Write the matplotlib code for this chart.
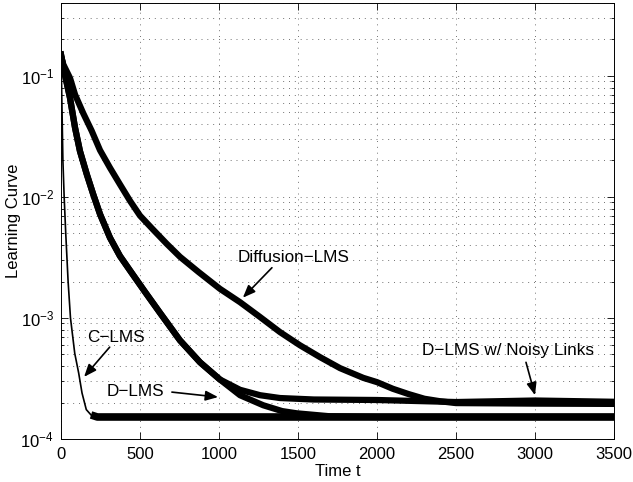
import matplotlib.pyplot as plt
from matplotlib.ticker import LogLocator, MultipleLocator, NullFormatter

plt.rcParams["font.family"] = ["Liberation Sans", "DejaVu Sans"]
plt.rcParams["mathtext.fontset"] = "custom"
plt.rcParams["mathtext.rm"] = "Liberation Sans"
plt.rcParams["font.size"] = 12


# curves (time, learning curve value)

clms_t = [0, 12, 20, 30, 45, 60, 87, 112, 133, 160, 190, 230, 3500]
clms_v = [0.16, 0.02, 1e-2, 5e-3, 2e-3, 1e-3, 5.1e-4, 3.5e-4, 2.4e-4,
          1.75e-4, 1.58e-4, 1.52e-4, 1.52e-4]

dlms_t = [0, 25, 57, 89, 120, 163, 204, 247, 310, 373, 447, 532, 627, 753,
          880, 1006, 1133, 1280, 1400, 1492, 1703, 2000, 3500]
dlms_v = [0.15, 0.102, 0.0657, 0.0372, 0.0239, 0.0154, 0.0105, 7.2e-3,
          4.6e-3, 3.25e-3, 2.36e-3, 1.64e-3, 1.1e-3, 6.53e-4, 4.3e-4, 3.1e-4,
          2.3e-4, 1.9e-4, 1.7e-4, 1.63e-4, 1.54e-4, 1.52e-4, 1.52e-4]

noisy_t = [0, 25, 57, 89, 120, 163, 204, 247, 310, 373, 447, 532, 627, 753,
           880, 1006, 1133, 1260, 1386, 1600, 2000, 2500, 3000, 3500]
noisy_v = [0.15, 0.102, 0.0657, 0.0372, 0.0239, 0.0154, 0.0105, 7.2e-3,
           4.6e-3, 3.25e-3, 2.36e-3, 1.64e-3, 1.1e-3, 6.53e-4, 4.3e-4, 3.1e-4,
           2.55e-4, 2.3e-4, 2.18e-4, 2.12e-4, 2.1e-4, 2.02e-4, 2.08e-4, 2.03e-4]

diff_t = [0, 15, 57, 89, 141, 194, 247, 310, 373, 437, 500, 584, 669, 753,
          870, 1006, 1133, 1259, 1386, 1513, 1639, 1766, 1913, 2000, 2100,
          2200, 2300, 2400, 2500, 3000, 3500]
diff_v = [0.145, 0.124, 0.096, 0.070, 0.049, 0.0352, 0.0243, 0.0174, 0.0127,
          9.27e-3, 7.0e-3, 5.35e-3, 4.1e-3, 3.2e-3, 2.4e-3, 1.74e-3,
          1.35e-3, 1.02e-3, 7.64e-4, 5.94e-4, 4.75e-4, 3.85e-4, 3.2e-4,
          2.95e-4, 2.6e-4, 2.35e-4, 2.15e-4, 2.05e-4, 1.98e-4, 1.96e-4, 1.95e-4]


fig = plt.figure(figsize=(6.33, 4.82), dpi=100)
ax = fig.add_axes([61 / 633, 43 / 482, 553 / 633, 436 / 482])

# thin steep drop for C-LMS, thick noisy floor after it
ax.plot(clms_t, clms_v, color="k", lw=1.2)
ax.plot(clms_t[10:], clms_v[10:], color="k", lw=5.5, solid_capstyle="butt")

ax.plot(dlms_t, dlms_v, color="k", lw=4.5)
ax.plot(noisy_t, noisy_v, color="k", lw=4.5)
ax.plot(diff_t, diff_v, color="k", lw=4.5)

ax.set_yscale("log")
ax.set_xlim(0, 3500)
ax.set_ylim(1e-4, 0.4)

ax.xaxis.set_major_locator(MultipleLocator(500))
ax.yaxis.set_major_locator(LogLocator(base=10, numticks=10))
ax.yaxis.set_minor_locator(LogLocator(base=10, subs=range(2, 10), numticks=20))
ax.yaxis.set_minor_formatter(NullFormatter())

ax.tick_params(which="both", direction="in", top=True, right=True,
               labelsize=12, width=0.6)
ax.tick_params(which="major", length=5)
ax.tick_params(which="minor", length=2.5)
ax.tick_params(axis="x", pad=6)
ax.tick_params(axis="y", pad=5)

grid_style = dict(color="0.45", lw=0.7, linestyle=(0, (1, 5)))
ax.grid(True, which="major", axis="x", **grid_style)
ax.grid(True, which="both", axis="y", **grid_style)

for s in ax.spines.values():
    s.set_linewidth(0.7)

ax.set_xlabel("Time t", fontsize=12, labelpad=1)
ax.set_ylabel("Learning Curve", fontsize=12)
ax.yaxis.set_label_coords(-0.072, 0.5)

# labels and arrows
arrow = dict(arrowstyle="-|>,head_length=0.5,head_width=0.2",
             color="k", lw=1.2, mutation_scale=15, shrinkA=0, shrinkB=0)

ax.text(1472, 3.16e-3, "Diffusion\u2212LMS", ha="center", va="center", fontsize=12.3)
ax.annotate("", xy=(1151, 1.47e-3), xytext=(1335, 2.6e-3), arrowprops=arrow)

ax.text(350, 6.85e-4, "C\u2212LMS", ha="center", va="center", fontsize=12.3)
ax.annotate("", xy=(146, 3.26e-4), xytext=(308, 5.74e-4), arrowprops=arrow)

ax.text(474, 2.45e-4, "D\u2212LMS", ha="center", va="center", fontsize=12.3)
ax.annotate("", xy=(994, 2.22e-4), xytext=(702, 2.44e-4), arrowprops=arrow)

ax.text(2826, 5.4e-4, "D\u2212LMS w/ Noisy Links", ha="center", va="center",
        fontsize=12.3)
ax.annotate("", xy=(3000, 2.3e-4), xytext=(2943, 4.3e-4), arrowprops=arrow)

fig.savefig("out.png", dpi=100)
